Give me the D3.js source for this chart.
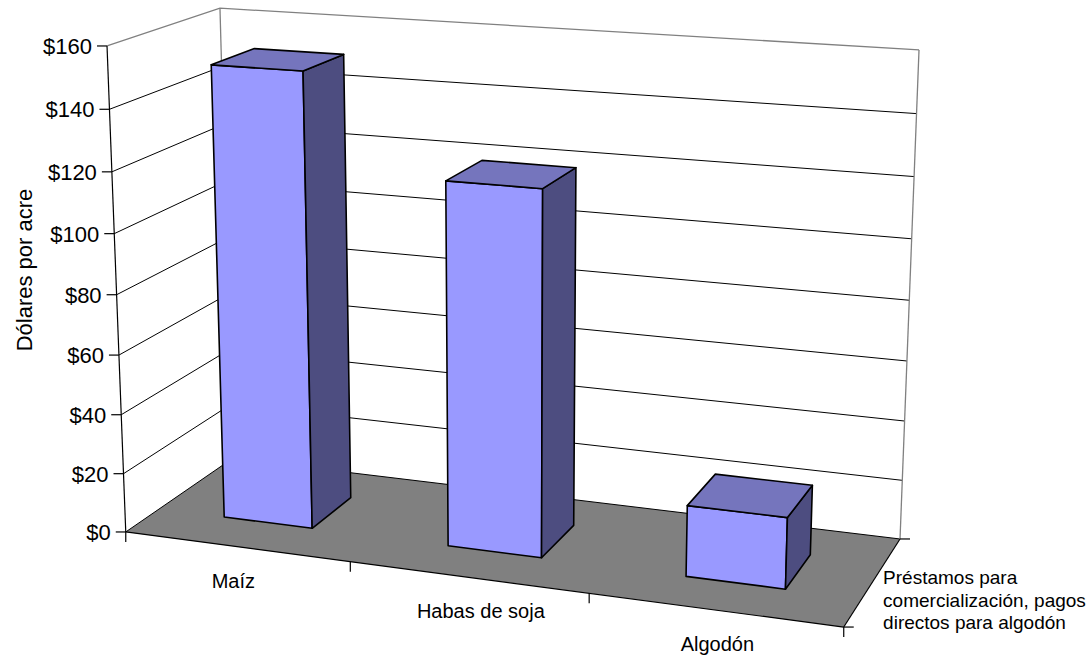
<!DOCTYPE html>
<html>
<head>
<meta charset="utf-8">
<script src="https://cdn.jsdelivr.net/npm/d3@7"></script>
<style>
  html, body { margin: 0; padding: 0; background: #fff; }
  svg { display: block; font-family: "Liberation Sans", Arial, sans-serif; }
</style>
</head>
<body>
<script>
// ---- data ----
const categories = ["Maíz", "Habas de soja", "Algodón"];
const values = [151.5, 120, 23.3];
const seriesLabelLines = ["Préstamos para", "comercialización, pagos", "directos para algodón"];
const yTickValues = [0, 20, 40, 60, 80, 100, 120, 140, 160];
const yTitle = "Dólares por acre";

// ---- layout ----
const W = 1089, H = 657;
const svg = d3.select("body").append("svg").attr("width", W).attr("height", H);

// World space: x = category units (0..3), v = value fraction (0..1), z = depth (0 front, 1 back).
// The chart box is anchored on screen by its visible corners and the category ticks;
// a perspective camera (3x4 projective matrix) is fitted to them.
const frameAnchors = [
  { w: [0, 0, 0], s: [126, 532] },
  { w: [0, 1, 0], s: [107, 46] },
  { w: [0, 1, 1], s: [220, 8] },
  { w: [3, 1, 1], s: [919, 50] },
  { w: [3, 0, 1], s: [900, 539] },
  { w: [3, 0, 0], s: [844, 627] },
  { w: [1, 0, 0], s: [350, 562] },
  { w: [2, 0, 0], s: [589, 593] }
];
// small horizontal nudges for the category labels
const labelNudge = [-3, 13, 3];

function solve(A, b) {
  const n = b.length;
  const M = A.map((r, i) => r.concat([b[i]]));
  for (let c = 0; c < n; c++) {
    let p = c;
    for (let r = c + 1; r < n; r++) if (Math.abs(M[r][c]) > Math.abs(M[p][c])) p = r;
    [M[c], M[p]] = [M[p], M[c]];
    for (let r = 0; r < n; r++) {
      if (r === c) continue;
      const f = M[r][c] / M[c][c];
      for (let k = c; k <= n; k++) M[r][k] -= f * M[c][k];
    }
  }
  return M.map((r, i) => r[n] / r[i]);
}

function fitCamera(anchors) {
  const rows = [], rhs = [];
  anchors.forEach(({ w: [X, Y, Z], s: [u, v] }) => {
    rows.push([X, Y, Z, 1, 0, 0, 0, 0, -u * X, -u * Y, -u * Z]); rhs.push(u);
    rows.push([0, 0, 0, 0, X, Y, Z, 1, -v * X, -v * Y, -v * Z]); rhs.push(v);
  });
  const n = 11;
  const AtA = d3.range(n).map(i => d3.range(n).map(j => d3.sum(rows, r => r[i] * r[j])));
  const Atb = d3.range(n).map(i => d3.sum(rows, (r, k) => r[i] * rhs[k]));
  return solve(AtA, Atb);
}

const P = fitCamera(frameAnchors);
function proj(x, v, z) {
  const w = P[8] * x + P[9] * v + P[10] * z + 1;
  return [(P[0] * x + P[1] * v + P[2] * z + P[3]) / w,
          (P[4] * x + P[5] * v + P[6] * z + P[7]) / w];
}

// ---- scales ----
const x = d3.scaleBand().domain(categories).range([0, 3]).paddingInner(0.6).paddingOuter(0.3);
const depth = d3.scaleBand().domain(["s1"]).range([0, 1]).paddingInner(0.6).paddingOuter(0.3);
const y = d3.scaleLinear().domain([0, 160]).range([0, 1]);
const xMax = 3;

const line = d3.line();
const poly = pts => line(pts) + "Z";

// ---- walls ----
const g = svg.append("g");
g.append("path").attr("d", poly([proj(0, 0, 0), proj(0, 1, 0), proj(0, 1, 1), proj(0, 0, 1)]))
  .attr("fill", "#fff");
g.append("path").attr("d", poly([proj(0, 0, 1), proj(0, 1, 1), proj(xMax, 1, 1), proj(xMax, 0, 1)]))
  .attr("fill", "#fff");

// floor
g.append("path").attr("d", poly([proj(0, 0, 0), proj(xMax, 0, 0), proj(xMax, 0, 1), proj(0, 0, 1)]))
  .attr("fill", "#808080");

// gridlines across left and back walls
yTickValues.forEach(t => {
  const v = y(t);
  g.append("path")
    .attr("d", line([proj(0, v, 0), proj(0, v, 1), proj(xMax, v, 1)]))
    .attr("fill", "none")
    .attr("stroke", t === 160 ? "#808080" : "#000")
    .attr("stroke-width", t === 160 ? 1.3 : 1);
});

// wall edges
g.append("path").attr("d", line([proj(0, 0, 1), proj(0, 1, 1)]))
  .attr("stroke", "#808080").attr("stroke-width", 1.3).attr("fill", "none");
g.append("path").attr("d", line([proj(xMax, 0, 1), proj(xMax, 1, 1)]))
  .attr("stroke", "#808080").attr("stroke-width", 1.3).attr("fill", "none");

// axes: value axis (front-left), category axis (front floor edge), series axis (right floor edge)
g.append("path").attr("d", line([proj(0, 0, 0), proj(0, 1, 0)]))
  .attr("stroke", "#000").attr("stroke-width", 1.2).attr("fill", "none");
g.append("path").attr("d", line([proj(0, 0, 0), proj(xMax, 0, 0)]))
  .attr("stroke", "#000").attr("stroke-width", 1.2).attr("fill", "none");
g.append("path").attr("d", line([proj(xMax, 0, 0), proj(xMax, 0, 1)]))
  .attr("stroke", "#000").attr("stroke-width", 1.2).attr("fill", "none");

// value ticks and labels
const fmt = d3.format("$.0f");
yTickValues.forEach(t => {
  const [px, py] = proj(0, y(t), 0);
  g.append("line").attr("x1", px - 10).attr("x2", px).attr("y1", py).attr("y2", py)
    .attr("stroke", "#000").attr("stroke-width", 1.2);
  g.append("text").attr("x", px - 15).attr("y", py).attr("dy", "0.36em")
    .attr("text-anchor", "end").attr("font-size", 22).attr("fill", "#000").text(fmt(t));
});

// category ticks (band boundaries) and labels
d3.range(categories.length + 1).forEach(i => {
  const [px, py] = proj(i * x.step(), 0, 0);
  g.append("line").attr("x1", px).attr("x2", px).attr("y1", py).attr("y2", py + 10)
    .attr("stroke", "#000").attr("stroke-width", 1.2);
});
categories.forEach((c, i) => {
  const [px, py] = proj(x(c) + x.bandwidth() / 2, 0, 0);
  g.append("text").attr("x", px + labelNudge[i]).attr("y", py + 41).attr("text-anchor", "middle")
    .attr("font-size", 20).attr("fill", "#000").text(c);
});

// series ticks and label
[0, 1].forEach(z => {
  const [px, py] = proj(xMax, 0, z);
  g.append("line").attr("x1", px).attr("x2", px + 10).attr("y1", py).attr("y2", py)
    .attr("stroke", "#000").attr("stroke-width", 1.2);
});
{
  const [mx, my] = proj(xMax, 0, 0.5);
  const t = g.append("text").attr("x", mx + 10).attr("y", my + 3)
    .attr("font-size", 19).attr("fill", "#000");
  seriesLabelLines.forEach((s, i) => {
    t.append("tspan").attr("x", mx + 10).attr("dy", i === 0 ? 0 : 22.5).text(s);
  });
}

// axis title
g.append("text").attr("transform", "translate(32,270) rotate(-90)")
  .attr("text-anchor", "middle").attr("font-size", 22).attr("fill", "#000").text(yTitle);

// ---- bars ----
const z0 = depth("s1"), z1 = depth("s1") + depth.bandwidth();
const bars = g.append("g").selectAll("g.bar")
  .data(categories.map((c, i) => ({ c, v: values[i] })))
  .join("g").attr("class", "bar");

bars.each(function (d) {
  const x0 = x(d.c), x1 = x(d.c) + x.bandwidth();
  const h = y(d.v);
  const faces = [
    { pts: [proj(x0, 0, z0), proj(x1, 0, z0), proj(x1, h, z0), proj(x0, h, z0)], fill: "#9999FF" },
    { pts: [proj(x1, 0, z0), proj(x1, 0, z1), proj(x1, h, z1), proj(x1, h, z0)], fill: "#4D4D80" },
    { pts: [proj(x0, h, z0), proj(x1, h, z0), proj(x1, h, z1), proj(x0, h, z1)], fill: "#7575BD" }
  ];
  d3.select(this).selectAll("path").data(faces).join("path")
    .attr("d", f => poly(f.pts))
    .attr("fill", f => f.fill)
    .attr("stroke", "#000").attr("stroke-width", 1.6).attr("stroke-linejoin", "round");
});
</script>
</body>
</html>
